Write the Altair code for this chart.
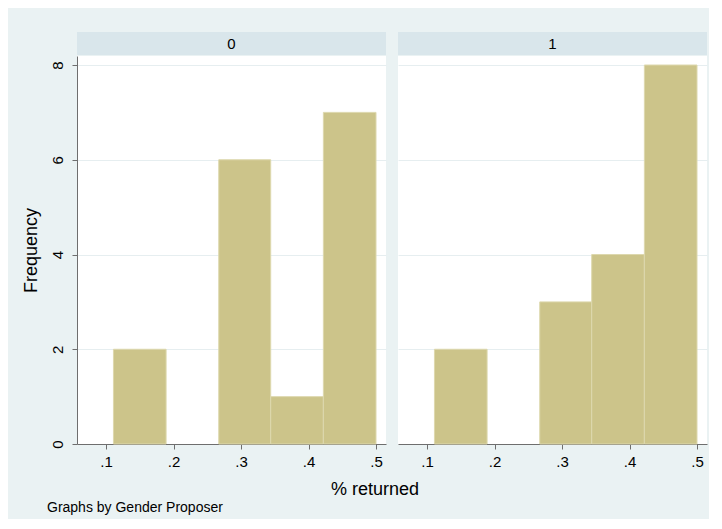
import altair as alt
import pandas as pd

# ---- data ----
panels = ["0", "1"]
bin_edges = [0.111, 0.189, 0.267, 0.344, 0.422, 0.5]
counts_0 = [2, 0, 6, 1, 7]
counts_1 = [2, 0, 3, 4, 8]
x_ticks = [0.1, 0.2, 0.3, 0.4, 0.5]
y_ticks = [0, 2, 4, 6, 8]
x_title = "% returned"
y_title = "Frequency"
note = "Graphs by Gender Proposer"

# ---- style ----
FONT = "Liberation Sans"
W, H = 309, 388
BG = "#EAF2F3"
STRIP = "#D9E6EB"
BAR = "#CCC48A"
BAR_EDGE = "#DDD8AE"
AXIS_GREY = "#6E6E6E"

xscale = alt.Scale(domain=[0.057, 0.5148], nice=False, zero=False)
yscale = alt.Scale(domain=[0, 8.19], nice=False, zero=True)


def make_df(counts):
    return pd.DataFrame({
        "start": bin_edges[:-1],
        "end": bin_edges[1:],
        "count": counts,
        "base": [0] * len(counts),
    })


def panel(counts, label, first):
    df = make_df(counts)
    if first:
        yaxis = alt.Axis(values=y_ticks, title=y_title, labelAngle=270,
                         labelAlign="center", labelBaseline="bottom",
                         labelPadding=7, titlePadding=10, grid=True)
    else:
        yaxis = alt.Axis(values=y_ticks, title=None, labels=False, ticks=False,
                         domain=False, grid=True)
    xaxis = alt.Axis(values=x_ticks, title=None, grid=False, labelPadding=5,
                     labelExpr="replace(format(datum.value, '.1f'), '0.', '.')")

    bars = alt.Chart(df).transform_filter("datum.count > 0").mark_rect(
        color=BAR, stroke=BAR_EDGE, strokeWidth=1
    ).encode(
        x=alt.X("start:Q", scale=xscale, axis=xaxis),
        x2="end:Q",
        y=alt.Y("count:Q", scale=yscale, axis=yaxis),
        y2="base:Q",
    )

    lab = pd.DataFrame({"label": [label]})
    strip = alt.Chart(lab).mark_rect(color=STRIP).encode(
        x=alt.value(0), x2=alt.value(W), y=alt.value(-24), y2=alt.value(-1)
    )
    strip_text = alt.Chart(lab).mark_text(
        font=FONT, fontSize=15, color="black", baseline="middle"
    ).encode(x=alt.value(W / 2), y=alt.value(-12), text="label:N")

    layers = [strip, strip_text, bars]
    if first:
        t = pd.DataFrame({"t": [x_title], "n": [note]})
        xt = alt.Chart(t).mark_text(
            font=FONT, fontSize=18, color="black", baseline="middle", align="center"
        ).encode(x=alt.value(298), y=alt.value(H + 46), text="t:N")
        nt = alt.Chart(t).mark_text(
            font=FONT, fontSize=14, color="black", baseline="middle", align="left"
        ).encode(x=alt.value(-30), y=alt.value(H + 64), text="n:N")
        layers += [xt, nt]
    return alt.layer(*layers).properties(width=W, height=H)


chart = alt.hconcat(
    panel(counts_0, panels[0], True),
    panel(counts_1, panels[1], False),
    spacing=12,
    bounds="flush",
).properties(
    background=BG,
    padding={"left": 14, "top": 24, "right": 2, "bottom": 4},
).configure_view(
    fill="white", stroke=None
).configure_axis(
    domainColor=AXIS_GREY, tickColor=AXIS_GREY, tickSize=5,
    labelFont=FONT, labelFontSize=15, labelColor="black",
    titleFont=FONT, titleFontSize=18, titleColor="black", titleFontWeight="normal",
    gridColor="#E6EEF0", gridWidth=1,
)

chart.save("out.html", embed_options={"renderer": "svg", "actions": False})
